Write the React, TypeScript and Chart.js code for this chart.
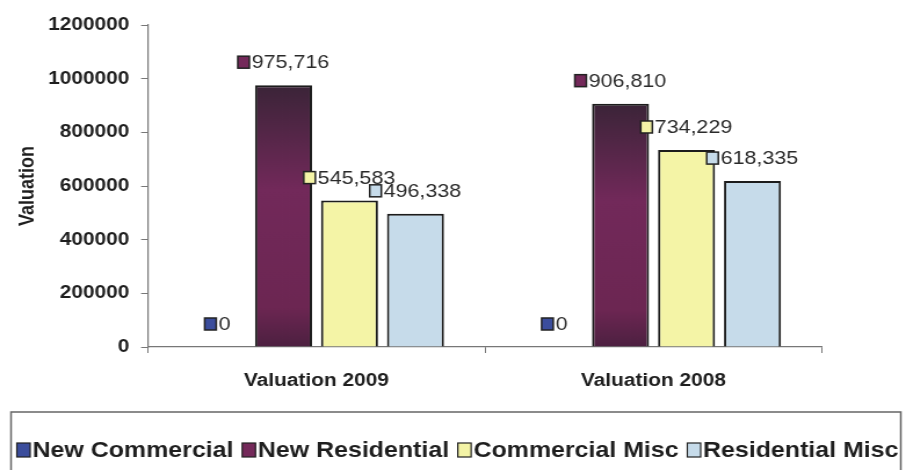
import React, { useEffect, useRef } from "react";
import { Chart, registerables } from "chart.js";

Chart.register(...registerables);

// ---- data ----
const categories = ["Valuation 2009", "Valuation 2008"];
const seriesNames = ["New Commercial", "New Residential", "Commercial Misc", "Residential Misc"];
const newCommercial = [0, 0];
const newResidential = [975716, 906810];
const commercialMisc = [545583, 734229];
const residentialMisc = [496338, 618335];
const yTicksMax = 1200000;
const yTickStep = 200000;

// ---- styling ----
const SX = 1.16; // the reference is horizontally stretched
const W = Math.round(906 / SX);
const H = 470;
const FONT = "'Liberation Sans', Arial, sans-serif";
const fills = ["#3b4d9c", "#74295a", "#f4f4a6", "#c6dbea"];
const borderDark = "#1c1c1c";

const fmt = (v: number) => v.toLocaleString("en-US");

const labelPlugin = {
  id: "excelLabels",
  afterDatasetsDraw(chart: any) {
    const ctx = chart.ctx;
    ctx.save();
    ctx.font = `18.5px ${FONT}`;
    ctx.textBaseline = "middle";
    chart.data.datasets.forEach((ds: any, di: number) => {
      const meta = chart.getDatasetMeta(di);
      meta.data.forEach((bar: any, i: number) => {
        const txt = fmt(ds.data[i]);
        const tw = ctx.measureText(txt).width;
        const mw = 10;
        const gap = 2;
        const total = mw + gap + tw;
        const cx = bar.x;
        const cy = bar.y - 23;
        const x0 = cx - total / 2;
        ctx.fillStyle = fills[di];
        ctx.fillRect(x0, cy - 6, mw, 12);
        ctx.strokeStyle = "#222";
        ctx.lineWidth = 1.5;
        ctx.strokeRect(x0, cy - 6, mw, 12);
        ctx.fillStyle = "#2a2a2a";
        ctx.textAlign = "left";
        ctx.fillText(txt, x0 + mw + gap, cy + 1);
      });
    });
    ctx.restore();
  },
};

const legendPlugin = {
  id: "boxLegend",
  afterDraw(chart: any) {
    const ctx = chart.ctx;
    ctx.save();
    ctx.strokeStyle = "#666";
    ctx.lineWidth = 1.5;
    ctx.strokeRect(9.5, 412, 767, 100);
    ctx.font = `bold 21.5px ${FONT}`;
    ctx.textBaseline = "middle";
    ctx.textAlign = "left";
    let x = 14.5;
    const y = 450;
    seriesNames.forEach((name, i) => {
      ctx.fillStyle = fills[i];
      ctx.fillRect(x, y - 7, 11.5, 14);
      ctx.strokeStyle = "#222";
      ctx.lineWidth = 1.2;
      ctx.strokeRect(x, y - 7, 11.5, 14);
      x += 13.5;
      ctx.fillStyle = "#1e1e1e";
      ctx.fillText(name, x, y + 1);
      x += ctx.measureText(name).width + 7.5;
    });
    ctx.restore();
  },
};

function residentialFill(c: any) {
  const chart = c.chart;
  const ys = chart.scales && chart.scales.y;
  if (!ys || !chart.chartArea || typeof c.raw !== "number") return fills[1];
  const top = ys.getPixelForValue(c.raw);
  const bottom = ys.getPixelForValue(0);
  const g = chart.ctx.createLinearGradient(0, top, 0, bottom);
  g.addColorStop(0, "#3b2438");
  g.addColorStop(0.4, "#72295a");
  g.addColorStop(0.85, "#6c2652");
  g.addColorStop(1, "#4c2040");
  return g;
}

export default function App() {
  const ref = useRef<HTMLCanvasElement | null>(null);
  useEffect(() => {
    document.body.style.margin = "0";
    document.body.style.background = "#ffffff";
    const canvas = ref.current!;
    const datasets = [newCommercial, newResidential, commercialMisc, residentialMisc].map((d, i) => ({
      label: seriesNames[i],
      data: d,
      backgroundColor: i === 1 ? residentialFill : fills[i],
      borderColor: borderDark,
      borderWidth: 2,
      borderSkipped: "bottom",
      categoryPercentage: 0.783,
      barPercentage: 0.864,
    }));
    const chart = new Chart(canvas, {
      type: "bar",
      data: { labels: categories, datasets: datasets as any },
      options: {
        responsive: false,
        animation: false,
        devicePixelRatio: 1,
        layout: { padding: { left: 0, right: W - 708.6, top: 25, bottom: H - 347 - 50 } },
        plugins: { legend: { display: false }, tooltip: { enabled: false } },
        scales: {
          x: {
            offset: true,
            grid: { display: true, drawOnChartArea: false, drawTicks: true, tickLength: 6, color: "#777", offset: true },
            border: { display: true, color: "#777", width: 1.2 },
            ticks: { color: "#1e1e1e", font: { family: FONT, size: 18, weight: "bold" }, padding: 17 },
            afterFit: (s: any) => {
              s.height = 50;
            },
          },
          y: {
            min: 0,
            max: yTicksMax,
            ticks: {
              stepSize: yTickStep,
              color: "#1e1e1e",
              font: { family: FONT, size: 18, weight: "bold" },
              padding: 10,
              callback: (v: any) => String(v),
            },
            grid: { display: true, drawOnChartArea: false, drawTicks: true, tickLength: 6, color: "#777" },
            border: { display: true, color: "#777", width: 1.2 },
            title: {
              display: true,
              text: "Valuation",
              color: "#1e1e1e",
              font: { family: FONT, size: 18, weight: "bold" },
              padding: { top: 13, bottom: 0 },
            },
            afterFit: (s: any) => {
              s.width = 127.6;
            },
          },
        },
      },
      plugins: [labelPlugin, legendPlugin],
    });
    return () => chart.destroy();
  }, []);
  return (
    <div style={{ width: 906, height: H, overflow: "hidden", background: "#fff" }}>
      <div style={{ width: W, height: H, transform: `scaleX(${906 / W})`, transformOrigin: "0 0" }}>
        <canvas ref={ref} width={W} height={H} style={{ width: W, height: H, display: "block" }} />
      </div>
    </div>
  );
}
